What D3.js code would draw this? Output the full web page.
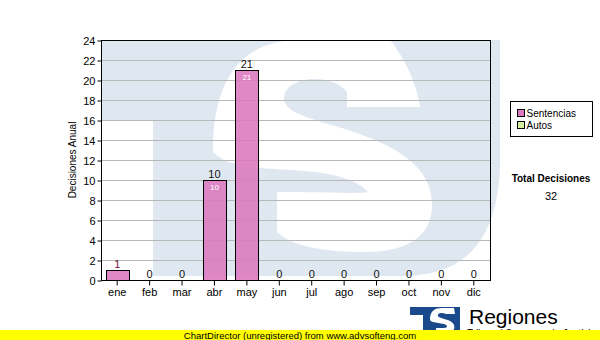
<!DOCTYPE html>
<html>
<head>
<meta charset="utf-8">
<script src="https://cdn.jsdelivr.net/npm/d3@7"></script>
<style>
  body { margin: 0; background: #fff; }
  svg { display: block; }
</style>
</head>
<body>
<div class="svg-div"></div>
<script>
// data
var months = ["ene","feb","mar","abr","may","jun","jul","ago","sep","oct","nov","dic"]
var sentencias = [1,0,0,10,21,0,0,0,0,0,0,0]
var autos = [0,0,0,0,0,0,0,0,0,0,0,0]
var yTicks = [0,2,4,6,8,10,12,14,16,18,20,22,24]
var seriesNames = ["Sentencias","Autos"]
var seriesColors = ["#dc78be","#d6eea0"]
var totalLabel = "Total Decisiones"

var width = 600, height = 340
var plotLeft = 101, plotRight = 490, plotTop = 40, plotBottom = 280
var font = "'Liberation Sans', Arial, sans-serif"

var svg = d3.select(".svg-div").append("svg")
    .attr("width", width)
    .attr("height", height)

let xScale = d3.scaleBand()
    .domain(months)
    .range([plotLeft, plotRight])
let yScale = d3.scaleLinear()
    .domain([0, d3.max(yTicks)])
    .range([plotBottom, plotTop])

// watermark logo behind the plot (coords relative to plot corner)
var wm = svg.append("g")
    .attr("transform", "translate(" + plotLeft + "," + plotTop + ")")
wm.append("rect").attr("x", 0).attr("y", 0).attr("width", 399).attr("height", 236).attr("fill", "#dfe8f1")
wm.append("rect").attr("x", 0).attr("y", 80).attr("width", 52).attr("height", 160).attr("fill", "#fff")
wm.append("path").attr("fill", "#fff")
    .attr("d", "M399,130 C395,195 370,236 300,236 L399,236 Z")
wm.append("path").attr("fill", "#fff")
    .attr("d", "M112,110 C112,35 144,0 199,0 L289,0 C305,20 316,45 319,67 L246,67 L246,52 " +
               "C239,43 227,39 213,39 C195,39 183,48 183,58 C183,70 199,76 234,86 " +
               "C299,105 331,128 331,165 C331,198 304,212 264,212 C219,212 189,205 176,192 " +
               "L176,152 C144,148 112,135 112,110 Z")
// lower counter of the S
wm.append("path").attr("fill", "#dfe8f1")
    .attr("d", "M112,112 C124,125 149,128 189,130 C229,132 254,138 267,152 C259,154 219,152 176,152 L112,152 Z")

// grid lines
svg.append("g").selectAll("line")
    .data(yTicks.slice(1, -1))
    .join("line")
    .attr("x1", plotLeft).attr("x2", plotRight)
    .attr("y1", d => yScale(d) + 0.5).attr("y2", d => yScale(d) + 0.5)
    .attr("stroke", "#b8b8b8")

// bars
var barW = xScale.bandwidth() * 0.71
var gRect = svg.append("g")
gRect.selectAll("rect")
    .data(months.map((m, i) => ({ month: m, value: sentencias[i] })).filter(d => d.value > 0))
    .join("rect")
    .attr("x", d => Math.round(xScale(d.month) + xScale.bandwidth() / 2 - barW / 2) + 0.5)
    .attr("y", d => yScale(d.value) + 0.5)
    .attr("width", Math.round(barW))
    .attr("height", d => yScale(0) - yScale(d.value))
    .attr("fill", seriesColors[0])
    .attr("fill-opacity", 0.88)
    .attr("stroke", "#000")

// value labels on top
svg.append("g").selectAll("text")
    .data(months.map((m, i) => ({ month: m, value: sentencias[i] + autos[i] })))
    .join("text")
    .attr("x", d => xScale(d.month) + xScale.bandwidth() / 2)
    .attr("y", d => yScale(d.value) - 2)
    .attr("text-anchor", "middle")
    .attr("font-family", font)
    .attr("font-size", 11)
    .attr("fill", d => d.value == 1 ? "#6a1040" : "#111")
    .text(d => d.value)

// labels inside the tall bars
svg.append("g").selectAll("text")
    .data(months.map((m, i) => ({ month: m, value: sentencias[i] })).filter(d => d.value >= 10))
    .join("text")
    .attr("x", d => xScale(d.month) + xScale.bandwidth() / 2)
    .attr("y", d => yScale(d.value) + 10)
    .attr("text-anchor", "middle")
    .attr("font-family", font)
    .attr("font-size", 8)
    .attr("fill", "#fff")
    .text(d => d.value)

// axes
let yAxis = d3.axisLeft(yScale).tickValues(yTicks).tickSize(4).tickPadding(2)
let gyAxis = svg.append("g").attr("transform", "translate(" + (plotLeft + 0.5) + ",0.5)")
yAxis(gyAxis)
let xAxis = d3.axisBottom(xScale).tickSize(5).tickPadding(3)
let gxAxis = svg.append("g").attr("transform", "translate(0," + (plotBottom + 0.5) + ")")
xAxis(gxAxis)
svg.selectAll(".domain").remove()
svg.selectAll(".tick text").attr("font-family", font).attr("font-size", 11).attr("fill", "#000")
svg.selectAll(".tick line").attr("stroke", "#000")

// plot frame
svg.append("rect")
    .attr("x", plotLeft + 0.5).attr("y", plotTop + 0.5)
    .attr("width", plotRight - plotLeft).attr("height", plotBottom - plotTop)
    .attr("fill", "none").attr("stroke", "#000")

svg.append("text")
    .attr("transform", "translate(76," + ((plotTop + plotBottom) / 2) + ") rotate(-90)")
    .attr("text-anchor", "middle")
    .attr("font-family", font)
    .attr("font-size", 10)
    .text("Decisiones Anual")

// legend
var legend = svg.append("g").attr("transform", "translate(510.5,101.5)")
legend.append("rect").attr("width", 82).attr("height", 35).attr("fill", "#fff").attr("stroke", "#000")
seriesNames.forEach(function (name, i) {
    legend.append("rect")
        .attr("x", 7).attr("y", 8 + i * 12)
        .attr("width", 7).attr("height", 7)
        .attr("fill", seriesColors[i]).attr("stroke", "#000")
    legend.append("text")
        .attr("x", 16).attr("y", 15.5 + i * 12)
        .attr("font-family", font).attr("font-size", 10)
        .text(name)
})

svg.append("text")
    .attr("x", 551).attr("y", 182)
    .attr("text-anchor", "middle")
    .attr("font-family", font).attr("font-size", 10).attr("font-weight", "bold")
    .text(totalLabel)
svg.append("text")
    .attr("x", 551).attr("y", 200)
    .attr("text-anchor", "middle")
    .attr("font-family", font).attr("font-size", 11)
    .text(d3.sum(sentencias) + d3.sum(autos))

// small logo at bottom right
var logo = svg.append("g").attr("transform", "translate(410,307)")
logo.append("rect").attr("width", 50).attr("height", 26).attr("fill", "#1b4a8c")
logo.append("rect").attr("x", 0).attr("y", 8).attr("width", 13).attr("height", 20).attr("fill", "#fff")
logo.append("path").attr("fill", "#fff")
    .attr("d", "M20,12 C20,4 25,1 32,1 L44,1 L45,7 L36,7 C32,5 27,6 28,9 C29,12 42,12 44,18 " +
               "C46,24 40,26 33,26 L26,26 L26,21 L34,21 C38,21 38,18 34,17 C26,15 20,16 20,12 Z")
svg.append("text")
    .attr("x", 469).attr("y", 324)
    .attr("font-family", font).attr("font-size", 21)
    .text("Regiones")
svg.append("text")
    .attr("x", 467).attr("y", 337)
    .attr("font-family", font).attr("font-size", 10)
    .text("Tribunal Supremo de Justicia")

// unregistered banner
svg.append("rect").attr("x", 0).attr("y", 330).attr("width", width).attr("height", 10).attr("fill", "#ffff00")
svg.append("text")
    .attr("x", 300).attr("y", 338.5)
    .attr("text-anchor", "middle")
    .attr("font-family", font).attr("font-size", 9.5)
    .text("ChartDirector (unregistered) from www.advsofteng.com")
</script>
</body>
</html>
